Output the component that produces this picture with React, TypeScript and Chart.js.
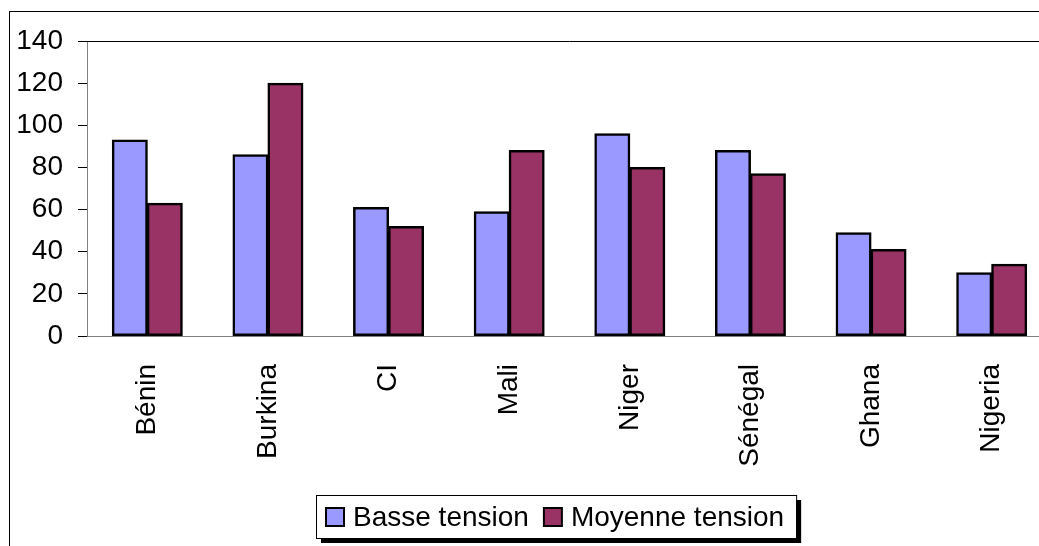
import React, { useEffect, useRef } from "react";
import { Chart, registerables } from "chart.js";

Chart.register(...registerables);

const categories = ["Bénin", "Burkina", "CI", "Mali", "Niger", "Sénégal", "Ghana", "Nigeria"];
const basseTension = [93, 86, 61, 59, 96, 88, 49, 30];
const moyenneTension = [63, 120, 52, 88, 80, 77, 41, 34];
const seriesLabels = ["Basse tension", "Moyenne tension"];
const seriesColors = ["#9999FF", "#993366"];
const yMin = 0;
const yMax = 140;
const yStep = 20;

const FONT = 'Arial, "Liberation Sans", sans-serif';
const FONT_SIZE = 28;

const framePlugin = {
  id: "excelFrame",
  beforeDraw(chart: any) {
    const ctx = chart.ctx;
    ctx.save();
    ctx.fillStyle = "#ffffff";
    ctx.fillRect(0, 0, chart.width, chart.height);
    ctx.strokeStyle = "#000000";
    ctx.lineWidth = 1;
    ctx.strokeRect(9.5, 11.5, chart.width + 50, chart.height + 50);
    ctx.restore();
  },
  afterDatasetsDraw(chart: any) {
    const ctx = chart.ctx;
    const a = chart.chartArea;
    ctx.save();
    ctx.strokeStyle = "#000000";
    ctx.lineWidth = 1;
    ctx.beginPath();
    ctx.moveTo(a.left, Math.round(a.top) + 0.5);
    ctx.lineTo(a.right, Math.round(a.top) + 0.5);
    ctx.stroke();
    ctx.restore();
  },
  afterDraw(chart: any) {
    const ctx = chart.ctx;
    ctx.save();
    ctx.font = `${FONT_SIZE}px ${FONT}`;
    const items = chart.data.datasets.map((ds: any) => ({
      label: ds.label as string,
      color: ds.backgroundColor as string,
      w: ctx.measureText(ds.label).width,
    }));
    const box = 18, gap = 9, itemGap = 15, padL = 10, padR = 12;
    const total =
      padL +
      items.reduce((s: number, it: any) => s + box + gap + it.w, 0) +
      itemGap * (items.length - 1) +
      padR;
    const cx = 556;
    const top = 495;
    const h = 43;
    const left = Math.round(cx - total / 2);
    ctx.fillStyle = "#000000";
    ctx.fillRect(left + 5, top + 5, total, h);
    ctx.fillStyle = "#ffffff";
    ctx.fillRect(left, top, total, h);
    ctx.strokeStyle = "#000000";
    ctx.lineWidth = 1;
    ctx.strokeRect(left + 0.5, top + 0.5, total, h);
    let x = left + padL;
    const cy = top + h / 2 + 0.5;
    items.forEach((it: any) => {
      ctx.fillStyle = it.color;
      ctx.fillRect(x, cy - box / 2, box, box);
      ctx.strokeStyle = "#000000";
      ctx.lineWidth = 2;
      ctx.strokeRect(x, cy - box / 2, box, box);
      ctx.fillStyle = "#000000";
      ctx.textBaseline = "middle";
      ctx.textAlign = "left";
      ctx.fillText(it.label, x + box + gap, cy + 1);
      x += box + gap + it.w + itemGap;
    });
    ctx.restore();
  },
};

export default function App() {
  const canvasRef = useRef<HTMLCanvasElement | null>(null);

  useEffect(() => {
    if (!canvasRef.current) return;
    const chart = new Chart(canvasRef.current, {
      type: "bar",
      data: {
        labels: categories,
        datasets: [
          {
            label: seriesLabels[0],
            data: basseTension,
            backgroundColor: seriesColors[0],
            borderColor: "#000000",
            borderWidth: 2.5,
            borderSkipped: false,
            inflateAmount: 0.5,
            categoryPercentage: 0.58,
            barPercentage: 1,
          },
          {
            label: seriesLabels[1],
            data: moyenneTension,
            backgroundColor: seriesColors[1],
            borderColor: "#000000",
            borderWidth: 2.5,
            borderSkipped: false,
            inflateAmount: 0.5,
            categoryPercentage: 0.58,
            barPercentage: 1,
          },
        ],
      },
      options: {
        responsive: false,
        animation: false,
        layout: { padding: { left: 0, top: 41, right: 8, bottom: 0 } },
        plugins: {
          legend: { display: false },
          tooltip: { enabled: false },
        },
        scales: {
          x: {
            grid: { display: false, drawTicks: false },
            border: { display: true, color: "#808080", width: 1 },
            ticks: {
              color: "#000000",
              font: { family: FONT, size: FONT_SIZE },
              minRotation: 90,
              maxRotation: 90,
              padding: 28,
              autoSkip: false,
            },
            afterFit: (scale: any) => {
              scale.height = 210;
            },
          },
          y: {
            min: yMin,
            max: yMax,
            grid: {
              drawOnChartArea: false,
              drawTicks: true,
              tickLength: 9,
              tickColor: "#000000",
              color: "#000000",
            },
            border: { display: true, color: "#808080", width: 1 },
            ticks: {
              stepSize: yStep,
              color: "#000000",
              font: { family: FONT, size: FONT_SIZE },
              padding: 15,
            },
            afterFit: (scale: any) => {
              scale.width = 87;
            },
          },
        },
      },
      plugins: [framePlugin],
    });
    return () => chart.destroy();
  }, []);

  return (
    <div
      style={{
        position: "fixed",
        left: 0,
        top: 0,
        width: 1039,
        height: 546,
        overflow: "hidden",
        background: "#ffffff",
      }}
    >
      <canvas ref={canvasRef} width={1060} height={546} style={{ display: "block" }} />
    </div>
  );
}
